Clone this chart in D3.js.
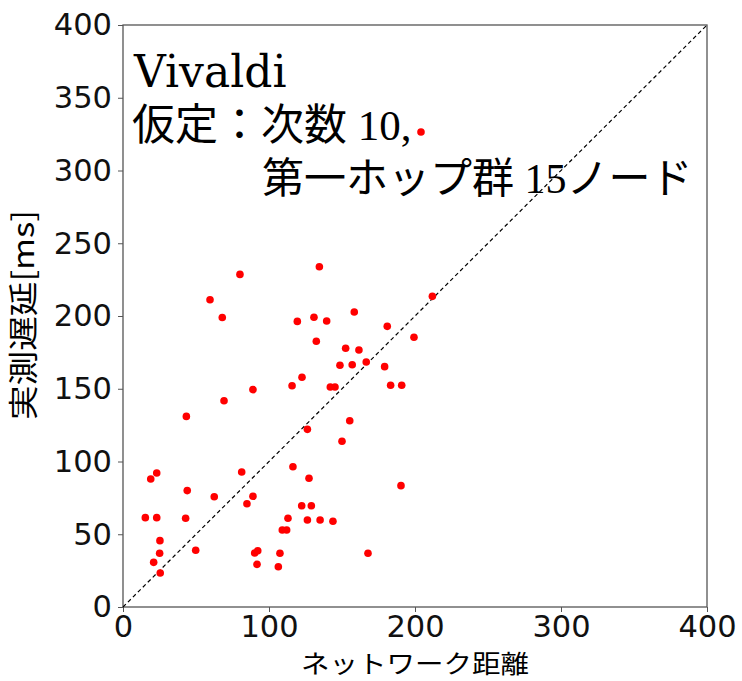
<!DOCTYPE html>
<html>
<head>
<meta charset="utf-8">
<script src="https://cdn.jsdelivr.net/npm/d3@7"></script>
<style>
  body { margin: 0; background: #fff; }
  .tick text { font-family: "DejaVu Sans", sans-serif; }
</style>
</head>
<body>
<div id="chart"></div>
<script>
// network distance (x) vs measured latency in ms (y)
const netDist = [80.1, 59.6, 68, 119.4, 130.8, 134.5, 132.4, 122.6, 115.8, 89, 69.2, 43.4, 126.3,
  211.9, 139.5, 158.4, 181, 199.3, 152.5, 161.6, 166.6, 148.6, 157, 179.2, 142, 145.2, 183.3, 190.9,
  155.3, 150, 23.1, 19, 44, 81.3, 62.5, 89, 84.9, 116.4, 127.4, 15.3, 23.1, 42.9, 122.4, 129, 113,
  126.3, 135, 143.8, 109.1, 112.1, 25.3, 25.1, 49.8, 90.2, 92.3, 107.5, 21, 91.8, 106.4, 25.5,
  190.4, 167.8, 204.1];
const latency = [228.6, 211.2, 199, 196.3, 199.1, 233.8, 182.6, 157.9, 152.1, 149.4, 141.8, 131, 122.1,
  213.5, 196.6, 202.7, 192.9, 185.4, 177.8, 176.6, 168.4, 166.1, 166.5, 165.2, 151.2, 151.2, 152.4, 152.4,
  128, 113.9, 92.1, 88, 80, 92.8, 75.8, 76.1, 71, 96.4, 88.5, 61.4, 61.4, 61, 69.6, 69.6, 61,
  59.8, 59.8, 58.9, 52.9, 52.9, 45.6, 36.9, 39, 37.1, 38.7, 36.9, 30.7, 29.3, 27.7, 23.4,
  83.4, 36.9, 326.5];
const xTicks = [0, 100, 200, 300, 400];
const yTicks = [0, 50, 100, 150, 200, 250, 300, 350, 400];
const noteLines = ["Vivaldi", "仮定：次数 10,", "第一ホップ群 15ノード"];

const width = 742, height = 681;
const svg = d3.select("#chart").append("svg")
  .attr("width", width)
  .attr("height", height);

const x = d3.scaleLinear().domain([0, 400]).range([123, 707]);
const y = d3.scaleLinear().domain([0, 400]).range([607, 25]);

// frame
svg.append("rect")
  .attr("x", x(0)).attr("y", y(400))
  .attr("width", x(400) - x(0)).attr("height", y(0) - y(400))
  .attr("fill", "none").attr("stroke", "#555").attr("stroke-width", 1.3);

const xAxis = svg.append("g")
  .attr("transform", `translate(0,${y(0)})`)
  .call(d3.axisBottom(x).tickValues(xTicks).tickSize(5).tickPadding(3));
const yAxis = svg.append("g")
  .attr("transform", `translate(${x(0)},0)`)
  .call(d3.axisLeft(y).tickValues(yTicks).tickSize(5).tickPadding(6));
[xAxis, yAxis].forEach(a => {
  a.select(".domain").remove();
  a.selectAll(".tick line").attr("stroke", "#555");
  a.selectAll(".tick text").attr("font-size", 30.5).attr("fill", "#111");
});

// y=x reference
svg.append("line")
  .attr("x1", x(0)).attr("y1", y(0))
  .attr("x2", x(400)).attr("y2", y(400))
  .attr("stroke", "#000").attr("stroke-width", 1.2)
  .attr("stroke-dasharray", "4,3");

svg.append("g").selectAll("circle")
  .data(netDist.map((d, i) => [d, latency[i]]))
  .join("circle")
  .attr("cx", d => x(d[0]))
  .attr("cy", d => y(d[1]))
  .attr("r", 3.8)
  .attr("fill", "#ff0000");

// annotation
const note = svg.append("g").attr("fill", "#000");
note.append("text").attr("x", 134).attr("y", 87)
  .attr("font-family", "'DejaVu Serif', serif")
  .attr("font-size", 44).text(noteLines[0]);
note.append("text").attr("x", 132).attr("y", 140)
  .attr("font-family", "'Liberation Serif', 'Noto Sans CJK JP', serif")
  .attr("font-size", 43).text(noteLines[1]);
note.append("text").attr("x", 262).attr("y", 193)
  .attr("font-family", "'Liberation Serif', 'Noto Sans CJK JP', serif")
  .attr("font-size", 42).text(noteLines[2]);

// axis labels
svg.append("text")
  .attr("x", (x(0) + x(400)) / 2).attr("y", 673)
  .attr("text-anchor", "middle")
  .attr("font-family", "'Noto Sans CJK JP', sans-serif")
  .attr("font-size", 25)
  .attr("textLength", 228)
  .attr("lengthAdjust", "spacingAndGlyphs")
  .text("ネットワーク距離");
svg.append("text")
  .attr("transform", `translate(34,315) rotate(-90)`)
  .attr("text-anchor", "middle")
  .attr("font-family", "'Noto Sans CJK JP', sans-serif")
  .attr("font-size", 30)
  .attr("textLength", 210)
  .attr("lengthAdjust", "spacingAndGlyphs")
  .text("実測遅延[ms]");
</script>
</body>
</html>
